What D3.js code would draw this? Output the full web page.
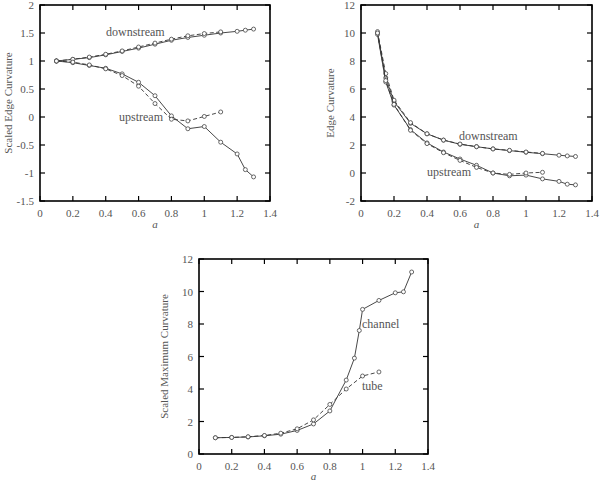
<!DOCTYPE html>
<html><head><meta charset="utf-8">
<script src="https://cdn.jsdelivr.net/npm/d3@7"></script>
<style>body{margin:0;background:#fff}svg{display:block}</style>
</head><body>
<svg id="c" width="600" height="483"></svg>
<script>
// Panel 1: Scaled Edge Curvature
const xA = [0.1,0.2,0.3,0.4,0.5,0.6,0.7,0.8,0.9,1.0,1.1,1.2,1.25,1.3];
const xB = [0.1,0.2,0.3,0.4,0.5,0.6,0.7,0.8,0.9,1.0,1.1];
const p1DownSolid = [1.0,1.03,1.06,1.11,1.17,1.23,1.30,1.37,1.42,1.46,1.50,1.53,1.55,1.57];
const p1DownDash  = [1.0,1.03,1.07,1.12,1.18,1.25,1.32,1.39,1.45,1.49,1.52];
const p1UpSolid   = [1.0,0.97,0.92,0.87,0.77,0.62,0.38,0.02,-0.21,-0.17,-0.45,-0.66,-0.94,-1.07];
const p1UpDash    = [1.0,0.98,0.93,0.86,0.74,0.55,0.24,-0.04,-0.07,0.01,0.09];
// Panel 2: Edge Curvature
const xC = [0.1,0.15,0.2,0.3,0.4,0.5,0.6,0.7,0.8,0.9,1.0,1.1,1.2,1.25,1.3];
const xD = [0.1,0.15,0.2,0.3,0.4,0.5,0.6,0.7,0.8,0.9,1.0,1.1];
const p2DownSolid = [10.0,6.8,5.1,3.55,2.8,2.35,2.05,1.88,1.72,1.6,1.48,1.38,1.27,1.22,1.18];
const p2DownDash  = [10.1,7.1,5.2,3.6,2.8,2.35,2.07,1.88,1.72,1.62,1.5,1.4];
const p2UpSolid   = [9.9,6.5,4.85,3.1,2.15,1.5,1.0,0.55,0.0,-0.2,-0.15,-0.42,-0.6,-0.8,-0.85];
const p2UpDash    = [10.0,6.6,4.9,3.05,2.1,1.45,0.9,0.4,0.0,-0.1,0.0,0.05];
// Panel 3: Scaled Maximum Curvature
const xE = [0.1,0.2,0.3,0.4,0.5,0.6,0.7,0.8,0.9,0.95,0.98,1.0,1.1,1.2,1.25,1.3];
const p3Channel = [1.0,1.02,1.05,1.12,1.22,1.45,1.85,2.65,4.55,5.9,7.6,8.9,9.45,9.92,9.98,11.2];
const p3Tube    = [1.0,1.02,1.06,1.14,1.28,1.55,2.1,3.05,4.0,4.8,5.05];

const xTicks = [0,0.2,0.4,0.6,0.8,1,1.2,1.4];
const p1YTicks = [-1.5,-1,-0.5,0,0.5,1,1.5,2];
const p2YTicks = [-2,0,2,4,6,8,10,12];
const p3YTicks = [0,2,4,6,8,10,12];

const svg = d3.select("#c");
const FONT = "Liberation Serif, DejaVu Serif, serif";
const TXT = "#555";

function panel(o){
  const g = svg.append("g");
  const x = d3.scaleLinear().domain([0,1.4]).range([o.left,o.right]);
  const y = d3.scaleLinear().domain(o.ydom).range([o.bottom,o.top]);
  const tl = 5;
  g.append("g").selectAll("line").data(xTicks).join("line")
    .attr("x1",d=>x(d)).attr("x2",d=>x(d)).attr("y1",o.bottom).attr("y2",o.bottom-tl)
    .attr("stroke","#000").attr("stroke-width",1.2);
  g.append("g").selectAll("line").data(xTicks).join("line")
    .attr("x1",d=>x(d)).attr("x2",d=>x(d)).attr("y1",o.top).attr("y2",o.top+tl)
    .attr("stroke","#000").attr("stroke-width",1.2);
  g.append("g").selectAll("line").data(o.yticks).join("line")
    .attr("y1",d=>y(d)).attr("y2",d=>y(d)).attr("x1",o.left).attr("x2",o.left+tl)
    .attr("stroke","#000").attr("stroke-width",1.2);
  g.append("g").selectAll("line").data(o.yticks).join("line")
    .attr("y1",d=>y(d)).attr("y2",d=>y(d)).attr("x1",o.right).attr("x2",o.right-tl)
    .attr("stroke","#000").attr("stroke-width",1.2);
  g.append("rect").attr("x",o.left).attr("y",o.top)
    .attr("width",o.right-o.left).attr("height",o.bottom-o.top)
    .attr("fill","none").attr("stroke","#000").attr("stroke-width",1.6);
  g.append("g").selectAll("text").data(xTicks).join("text")
    .attr("x",d=>x(d)).attr("y",o.bottom+15.5).attr("text-anchor","middle")
    .attr("font-family",FONT).attr("font-size",11).attr("fill",TXT)
    .text(d=>d3.format("")(d));
  g.append("g").selectAll("text").data(o.yticks).join("text")
    .attr("x",o.left-6).attr("y",d=>y(d)+4).attr("text-anchor","end")
    .attr("font-family",FONT).attr("font-size",11).attr("fill",TXT)
    .text(d=>d<0?"-"+Math.abs(d):String(d));
  g.append("text").attr("x",(o.left+o.right)/2).attr("y",o.bottom+o.aOff)
    .attr("text-anchor","middle").attr("font-family",FONT).attr("font-style","italic")
    .attr("font-size",11).attr("fill",TXT).text("a");
  g.append("text").attr("transform",`translate(${o.ylabX},${(o.top+o.bottom)/2}) rotate(-90)`)
    .attr("text-anchor","middle").attr("font-family",FONT)
    .attr("font-size",11).attr("fill",TXT).text(o.ylabel);
  const line = d3.line().x(d=>x(d[0])).y(d=>y(d[1]));
  o.series.forEach(s=>{
    const pts = s.xs.map((v,i)=>[v,s.ys[i]]);
    g.append("path").datum(pts).attr("d",line).attr("fill","none")
      .attr("stroke","#333").attr("stroke-width",0.9)
      .attr("stroke-dasharray",s.dash?"4,2.5":null);
    g.append("g").selectAll("circle").data(pts).join("circle")
      .attr("cx",d=>x(d[0])).attr("cy",d=>y(d[1])).attr("r",2)
      .attr("fill","#fff").attr("stroke","#444").attr("stroke-width",0.8);
  });
  o.labels.forEach(l=>{
    g.append("text").attr("x",l.x).attr("y",l.y).attr("font-family",FONT)
      .attr("font-size",12).attr("fill",TXT).text(l.t);
  });
}

panel({left:40,right:270,top:5,bottom:201,ydom:[-1.5,2],yticks:p1YTicks,ylabX:12,aOff:27,
  ylabel:"Scaled Edge Curvature",
  series:[{xs:xA,ys:p1DownSolid},{xs:xB,ys:p1DownDash,dash:true},
          {xs:xA,ys:p1UpSolid},{xs:xB,ys:p1UpDash,dash:true}],
  labels:[{t:"downstream",x:106,y:36},{t:"upstream",x:119,y:121}]});

panel({left:361,right:592,top:5,bottom:201,ydom:[-2,12],yticks:p2YTicks,ylabX:334,aOff:27,
  ylabel:"Edge Curvature",
  series:[{xs:xC,ys:p2DownSolid},{xs:xD,ys:p2DownDash,dash:true},
          {xs:xC,ys:p2UpSolid},{xs:xD,ys:p2UpDash,dash:true}],
  labels:[{t:"downstream",x:459,y:140},{t:"upstream",x:427,y:176}]});

panel({left:199,right:428,top:259,bottom:454,ydom:[0,12],yticks:p3YTicks,ylabX:168,aOff:26,
  ylabel:"Scaled Maximum Curvature",
  series:[{xs:xE,ys:p3Channel},{xs:xB,ys:p3Tube,dash:true}],
  labels:[{t:"channel",x:362,y:328},{t:"tube",x:362,y:390}]});
</script>
</body></html>
